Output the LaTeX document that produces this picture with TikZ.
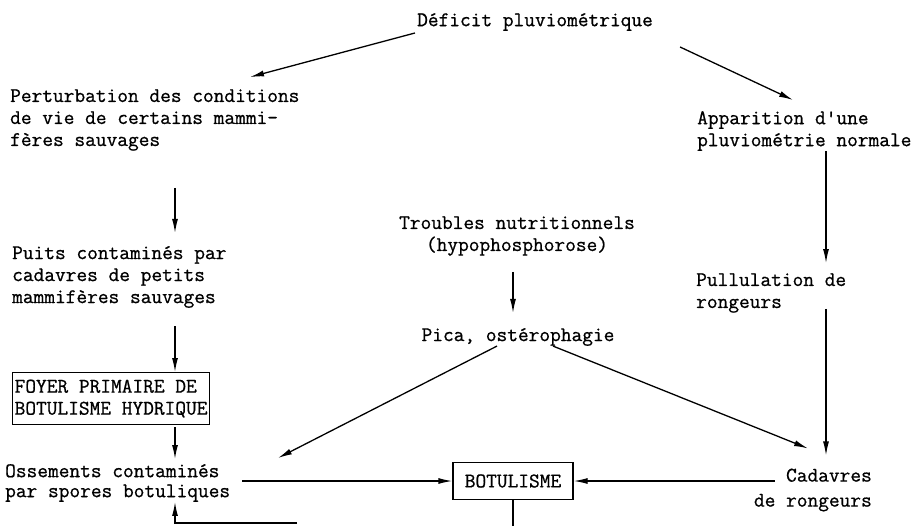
\documentclass[tikz,border=0pt]{standalone}
\usepackage{fontspec}
\newfontfamily\typewriter[FakeBold=0.8]{Latin Modern Mono}
\usetikzlibrary{arrows.meta, calc}

\begin{document}
\begin{tikzpicture}[x=1pt, y=-1pt,
      txt/.style={inner sep=0pt, align=left,
        font=\typewriter\fontsize{20.8}{22}\selectfont},
      boxed/.style={txt, draw, line width=1.3pt, inner xsep=2pt, inner ysep=7pt},
      flow/.style={-{Latex[length=14pt, width=6pt]}, line width=1.3pt}]
      \useasboundingbox (0,0) rectangle (918,525);

      % columns of the vertical arrows
      \coordinate (leftcol)  at (175,0);
      \coordinate (midcol)   at (513,0);
      \coordinate (rightcol) at (826,0);

      \node[txt] (deficit) at (535,22) {Déficit pluviométrique};
      \node[txt, anchor=west] (perturb) at (10,120)
        {Perturbation des conditions\\de vie de certains mammi-\\fères sauvages};
      \node[txt, anchor=west] (apparit) at (697,131)
        {Apparition d'une\\pluviométrie normale};
      \node[txt, anchor=west] (puits) at (12,277)
        {Puits contaminés par\\cadavres de petits\\mammifères sauvages};
      \node[txt, align=center] (troubles) at (517,236)
        {Troubles nutritionnels\\(hypophosphorose)};
      \node[txt] (pica) at (518,337) {Pica, ostérophagie};
      \node[txt, anchor=west] (pullul) at (696,293) {Pullulation de\\rongeurs};
      \node[boxed, anchor=north west] (foyer) at (12,372)
        {FOYER PRIMAIRE DE\\BOTULISME HYDRIQUE};
      \node[txt, anchor=west] (ossements) at (5,483)
        {Ossements contaminés\\[-2pt]par spores botuliques};
      \node[boxed, align=center, minimum width=120pt, minimum height=37pt]
        (botul) at (513,481) {BOTULISME};
      \node[txt, align=right, anchor=east] (cadavres) at (872,490)
        {Cadavres\\[3pt]de rongeurs};

      % diagonal arrows
      \draw[flow] ([shift={(-2pt,-2pt)}]deficit.south west)
        -- ([shift={(240pt,12pt)}]perturb.north west);
      \draw[flow] ([shift={(27pt,-16pt)}]deficit.south east)
        -- ([shift={(96pt,11pt)}]apparit.north west);
      \draw[flow] ([xshift=-21pt]pica.south)
        -- ([shift={(273pt,6pt)}]ossements.north west);
      \draw[flow] ([xshift=35pt]pica.south)
        -- ([shift={(-64pt,20pt)}]cadavres.north east);

      % vertical arrows
      \draw[flow, shorten <=37pt, shorten >=13pt]
        (perturb.south -| leftcol) -- (puits.north -| leftcol);
      \draw[flow, shorten <=18pt] (puits.south -| leftcol) -- (foyer.north -| leftcol);
      \draw[flow, shorten <=2pt, shorten >=5pt]
        (foyer.south -| leftcol) -- (ossements.north -| leftcol);
      \draw[flow, shorten >=10pt] (apparit.south -| rightcol) -- (pullul.north -| rightcol);
      \draw[flow, shorten <=-4pt, shorten >=13pt]
        (pullul.south -| rightcol) -- (cadavres.north -| rightcol);
      \draw[flow, shorten <=16pt, shorten >=15pt]
        (troubles.south -| midcol) -- (pica.north -| midcol);

      % horizontal arrows into BOTULISME
      \draw[flow] ($(ossements.east |- botul.west)+(12,0)$) -- (botul.west);
      \draw[flow] ($(cadavres.west |- botul.east)+(21,0)$) -- (botul.east);

      % return loop, cut by the lower edge
      \coordinate (loopend) at (297,523);
      \draw[line width=1.3pt] (botul.south) -- ++(0,30);
      \draw[flow] (loopend) -| (ossements.south -| leftcol);
\end{tikzpicture}
\end{document}
